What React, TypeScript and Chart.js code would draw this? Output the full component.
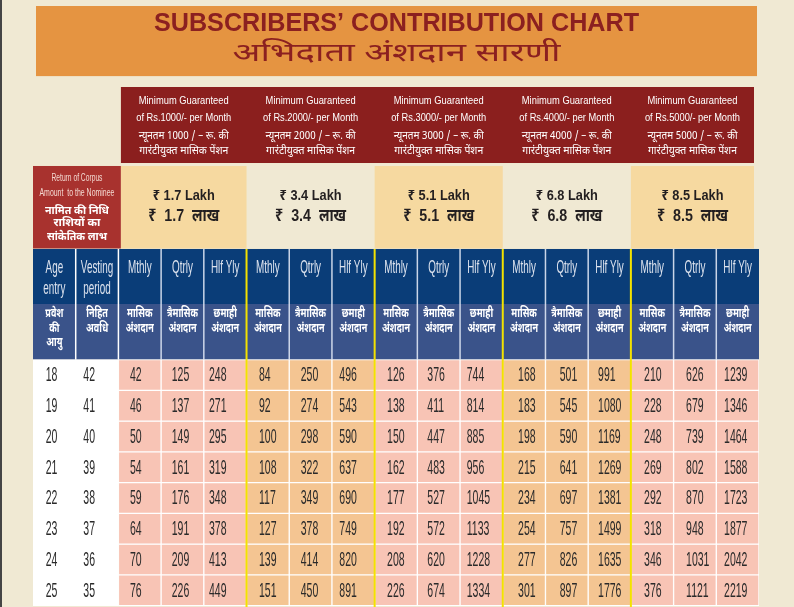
import React, { useEffect, useRef } from "react";
import { Chart, registerables } from "chart.js";

Chart.register(...registerables);

// ---------------- DATA ----------------
const TITLE_EN = "SUBSCRIBERS’ CONTRIBUTION CHART";
const TITLE_HI = "अभिदाता अंशदान सारणी";

const PENSIONS = ["1000", "2000", "3000", "4000", "5000"];
const CORPUS_LAKH = ["1.7", "3.4", "5.1", "6.8", "8.5"];

const CORPUS_HDR_EN = ["Return of Corpus", "Amount  to the Nominee"];
const CORPUS_HDR_HI = ["नामित की निधि", "राशियों का", "सांकेतिक लाभ"];

const AGE_HDR_EN = ["Age", "entry"];
const VEST_HDR_EN = ["Vesting", "period"];
const AGE_HDR_HI = ["प्रवेश", "की", "आयु"];
const VEST_HDR_HI = ["निहित", "अवधि"];
const FREQ_EN = ["Mthly", "Qtrly", "Hlf Yly"];
const FREQ_HI = [
  ["मासिक", "अंशदान"],
  ["त्रैमासिक", "अंशदान"],
  ["छमाही", "अंशदान"],
];

const AGES = [18, 19, 20, 21, 22, 23, 24, 25];
const VESTING = [42, 41, 40, 39, 38, 37, 36, 35];

const MTHLY_1000 = [42, 46, 50, 54, 59, 64, 70, 76];
const QTRLY_1000 = [125, 137, 149, 161, 176, 191, 209, 226];
const HLFYLY_1000 = [248, 271, 295, 319, 348, 378, 413, 449];

const MTHLY_2000 = [84, 92, 100, 108, 117, 127, 139, 151];
const QTRLY_2000 = [250, 274, 298, 322, 349, 378, 414, 450];
const HLFYLY_2000 = [496, 543, 590, 637, 690, 749, 820, 891];

const MTHLY_3000 = [126, 138, 150, 162, 177, 192, 208, 226];
const QTRLY_3000 = [376, 411, 447, 483, 527, 572, 620, 674];
const HLFYLY_3000 = [744, 814, 885, 956, 1045, 1133, 1228, 1334];

const MTHLY_4000 = [168, 183, 198, 215, 234, 254, 277, 301];
const QTRLY_4000 = [501, 545, 590, 641, 697, 757, 826, 897];
const HLFYLY_4000 = [991, 1080, 1169, 1269, 1381, 1499, 1635, 1776];

const MTHLY_5000 = [210, 228, 248, 269, 292, 318, 346, 376];
const QTRLY_5000 = [626, 679, 739, 802, 870, 948, 1031, 1121];
const HLFYLY_5000 = [1239, 1346, 1464, 1588, 1723, 1877, 2042, 2219];

const COLUMN_SERIES: number[][] = [
  AGES, VESTING,
  MTHLY_1000, QTRLY_1000, HLFYLY_1000,
  MTHLY_2000, QTRLY_2000, HLFYLY_2000,
  MTHLY_3000, QTRLY_3000, HLFYLY_3000,
  MTHLY_4000, QTRLY_4000, HLFYLY_4000,
  MTHLY_5000, QTRLY_5000, HLFYLY_5000,
];
const COLUMN_LABELS = [
  "Age", "Vesting",
  ...PENSIONS.flatMap((p) => FREQ_EN.map((f) => `${f} ${p}`)),
];

// ---------------- LAYOUT / STYLE ----------------
const W = 794;
const H = 607;
// vertical bands in row units (one unit = one data row)
const B = {
  titleTop: 0, titleBot: 2.28,
  redTop: 2.634, redBot: 5.106,
  lakhTop: 5.203, lakhBot: 7.886,
  blueTop: 7.902, blueMid: 9.691,
  dataTop: 11.5, yMax: 19.545,
};
const TITLE_LINES = [0.592, 1.626];
const RED_LINES = [3.08, 3.642, 4.25, 4.748];
const LAKH_LINES = [6.179, 6.852];
const CORPUS_LINES = [5.603, 6.091, 6.69, 7.09, 7.54];
const BLUE1_LINES = [8.504, 9.203];
const BLUE2_LINES = [10.049, 10.52, 10.992];
const TEXT_DX = [12.7, 7.6, 11.6, 10.6, 5.2, 12.5, 11.5, 7.4, 12.4, 10, 6.7, 15.3, 14.3, 9.9, 13.2, 12.5, 7.8];

const C = {
  bg: "#f0e9d3",
  edge: "#454545",
  titleBox: "#e59441",
  titleText: "#8b2020",
  red: "#8b1f1e",
  corpus: "#a8322e",
  corpusEn: "#f3d8d0",
  lakh: "#f6d9a0",
  blue1: "#0a3d78",
  blue2: "#3a538a",
  blueText: "#dde3ee",
  pink: "#f8c4b5",
  orange: "#f4c592",
  yellow: "#f3e200",
  num: "#2a2a2a",
};
const SANS = '"Liberation Sans", "Noto Sans", "DejaVu Sans", sans-serif';
const DEVA = '"Noto Sans Devanagari", "Lohit Devanagari", "Noto Sans", sans-serif';

function cellColor(c: number): string {
  if (c < 2) return "#ffffff";
  const g = Math.floor((c - 2) / 3);
  return g % 2 === 0 ? C.pink : C.orange;
}

function drawText(
  ctx: CanvasRenderingContext2D,
  s: string,
  x: number,
  y: number,
  font: string,
  color: string,
  opts: { align?: CanvasTextAlign; hs?: number; w?: number } = {}
) {
  ctx.save();
  ctx.font = font;
  ctx.fillStyle = color;
  ctx.textBaseline = "middle";
  ctx.textAlign = opts.align ?? "center";
  let hs = opts.hs ?? 1;
  if (opts.w) {
    const m = ctx.measureText(s).width;
    if (m > 0) hs = opts.w / m;
  }
  ctx.translate(x, y);
  ctx.scale(hs, 1);
  ctx.fillText(s, 0, 0);
  ctx.restore();
}

const tablePlugin = {
  id: "tableDecor",
  beforeDraw(chart: any) {
    const ctx: CanvasRenderingContext2D = chart.ctx;
    const xs = chart.scales.x;
    const ys = chart.scales.y;
    const cw = xs.getPixelForValue(1) - xs.getPixelForValue(0);
    const colL = (c: number) => xs.getPixelForValue(c) - cw / 2;
    const colR = (c: number) => xs.getPixelForValue(c) + cw / 2;
    const py = (u: number) => ys.getPixelForValue(u);
    const n = COLUMN_SERIES.length;

    ctx.save();
    ctx.fillStyle = C.bg;
    ctx.fillRect(0, 0, chart.width, chart.height);
    ctx.fillStyle = C.edge;
    ctx.fillRect(0, 0, 2, chart.height);

    // title box
    const tL = colL(0) + 3, tR = colR(n - 1) - 2;
    ctx.fillStyle = C.titleBox;
    ctx.fillRect(tL, py(B.titleTop), tR - tL, py(B.titleBot) - py(B.titleTop));
    const tc = (tL + tR) / 2;
    drawText(ctx, TITLE_EN, tc, py(TITLE_LINES[0]), `bold 26px ${SANS}`, C.titleText, { w: 485 });
    drawText(ctx, TITLE_HI, tc, py(TITLE_LINES[1]), `400 26px ${DEVA}`, C.titleText, { w: 328 });

    // red header band
    const rL = colL(2) + 2.5, rR = colR(n - 1) - 5;
    ctx.fillStyle = C.red;
    ctx.fillRect(rL, py(B.redTop), rR - rL, py(B.redBot) - py(B.redTop));

    // corpus box
    const cL = colL(0);
    ctx.fillStyle = C.corpus;
    ctx.fillRect(cL, py(B.lakhTop), rL - cL, py(B.lakhBot) - py(B.lakhTop));
    const cc = (cL + rL) / 2;
    drawText(ctx, CORPUS_HDR_EN[0], cc, py(CORPUS_LINES[0]), `10px ${SANS}`, C.corpusEn, { w: 51 });
    drawText(ctx, CORPUS_HDR_EN[1], cc, py(CORPUS_LINES[1]), `10px ${SANS}`, C.corpusEn, { w: 75 });
    const corpusW = [64, 47, 60];
    CORPUS_HDR_HI.forEach((s, i) =>
      drawText(ctx, s, cc, py(CORPUS_LINES[2 + i]), `bold 11px ${DEVA}`, "#ffffff", { w: corpusW[i] })
    );

    // groups
    PENSIONS.forEach((p, g) => {
      const gL = g === 0 ? rL : colL(2 + 3 * g);
      const gR = g === PENSIONS.length - 1 ? rR : colL(5 + 3 * g);
      const gc = (gL + gR) / 2;
      drawText(ctx, "Minimum Guaranteed", gc, py(RED_LINES[0]), `11px ${SANS}`, "#ffffff", { w: 90 });
      drawText(ctx, `of Rs.${p}/- per Month`, gc, py(RED_LINES[1]), `11px ${SANS}`, "#ffffff", { w: 95 });
      drawText(ctx, `न्यूनतम ${p} / – रू. की`, gc, py(RED_LINES[2]), `11px ${DEVA}`, "#ffffff", { w: 90 });
      drawText(ctx, "गारंटीयुक्त मासिक पेंशन", gc, py(RED_LINES[3]), `11px ${DEVA}`, "#ffffff", { w: 89 });

      if (g % 2 === 0) {
        ctx.fillStyle = C.lakh;
        ctx.fillRect(gL, py(B.lakhTop), gR - gL, py(B.lakhBot) - py(B.lakhTop));
      }
      drawText(ctx, `₹ ${CORPUS_LAKH[g]} Lakh`, gc, py(LAKH_LINES[0]), `bold 14px ${SANS}`, "#231f20", { w: 62 });
      drawText(ctx, `₹  ${CORPUS_LAKH[g]}  लाख`, gc, py(LAKH_LINES[1]), `bold 17px ${SANS}`, "#231f20", { w: 71 });
    });

    // blue header bands
    const bL = colL(0), bR = colR(n - 1);
    ctx.fillStyle = C.blue1;
    ctx.fillRect(bL, py(B.blueTop), bR - bL, py(B.blueMid) - py(B.blueTop));
    ctx.fillStyle = C.blue2;
    ctx.fillRect(bL, py(B.blueMid), bR - bL, py(B.dataTop) - py(B.blueMid));

    // blue header separators
    for (let c = 1; c < n; c++) {
      if (c >= 5 && (c - 2) % 3 === 0) continue;
      ctx.fillStyle = c <= 2 ? "#ffffff" : "rgba(222,230,244,0.9)";
      ctx.fillRect(colL(c) - 0.75, py(B.blueTop), 1.5, py(B.dataTop) - py(B.blueTop));
    }

    // blue header texts
    const en: string[][] = [AGE_HDR_EN, VEST_HDR_EN, ...PENSIONS.flatMap(() => FREQ_EN.map((f) => [f]))];
    const hi: string[][] = [AGE_HDR_HI, VEST_HDR_HI, ...PENSIONS.flatMap(() => FREQ_HI)];
    ctx.font = `bold 12px ${DEVA}`;
    const mRef = ctx.measureText("अंशदान").width;
    const hiScale = mRef > 0 ? Math.min(1.4, Math.max(0.5, 28 / mRef)) : 1;
    for (let c = 0; c < n; c++) {
      const x = xs.getPixelForValue(c);
      en[c].forEach((s, i) =>
        drawText(ctx, s, x, py(BLUE1_LINES[i]), `19px ${SANS}`, C.blueText, { hs: 0.52 })
      );
      hi[c].forEach((s, i) =>
        drawText(ctx, s, x, py(BLUE2_LINES[i]), `bold 12px ${DEVA}`, "#ffffff", { hs: hiScale })
      );
    }
    ctx.restore();
  },
  afterDatasetsDraw(chart: any) {
    const ctx: CanvasRenderingContext2D = chart.ctx;
    const xs = chart.scales.x;
    const ys = chart.scales.y;
    const cw = xs.getPixelForValue(1) - xs.getPixelForValue(0);
    const colL = (c: number) => xs.getPixelForValue(c) - cw / 2;
    const py = (u: number) => ys.getPixelForValue(u);
    const n = COLUMN_SERIES.length;

    ctx.save();
    // yellow group separators
    ctx.fillStyle = C.yellow;
    for (let c = 5; c < n; c += 3) {
      ctx.fillRect(colL(c) - 1, py(B.blueTop), 2, chart.chartArea.bottom - py(B.blueTop));
    }
    // cell values
    AGES.forEach((_, r) => {
      const meta = chart.getDatasetMeta(r);
      meta.data.forEach((el: any, c: number) => {
        const p = el.getProps(["x", "y", "base", "width"], true);
        const cy = (p.y + p.base) / 2;
        const left = p.x - p.width / 2;
        drawText(ctx, String(COLUMN_SERIES[c][r]), left + TEXT_DX[c], cy + 0.5, `21px ${SANS}`, C.num, {
          align: "left",
          hs: 0.5,
        });
      });
    });
    ctx.restore();
  },
};

export default function App() {
  const ref = useRef<HTMLCanvasElement>(null);
  useEffect(() => {
    document.body.style.margin = "0";
    const canvas = ref.current;
    if (!canvas) return;
    const datasets = AGES.map((age, r) => ({
      label: `Age ${age}`,
      data: COLUMN_SERIES.map(() => [B.dataTop + r, B.dataTop + r + 1]),
      backgroundColor: COLUMN_SERIES.map((_, c) => cellColor(c)),
      borderColor: "#ffffff",
      borderWidth: 1,
      borderSkipped: false,
      grouped: false,
      barPercentage: 1,
      categoryPercentage: 1,
    }));
    const chart = new Chart(canvas, {
      type: "bar",
      data: { labels: COLUMN_LABELS, datasets: datasets as any },
      options: {
        responsive: false,
        animation: false,
        devicePixelRatio: 1,
        layout: { padding: { left: 33, right: 35, top: 6, bottom: 0 } },
        plugins: {
          legend: { display: false },
          tooltip: { enabled: false },
          title: { display: false },
        },
        scales: {
          x: { type: "category", display: false, offset: true },
          y: { type: "linear", display: false, reverse: true, min: 0, max: B.yMax },
        },
      },
      plugins: [tablePlugin],
    });
    return () => chart.destroy();
  }, []);
  return (
    <div style={{ position: "fixed", left: 0, top: 0, width: W, height: H }}>
      <canvas ref={ref} width={W} height={H} style={{ display: "block" }} />
    </div>
  );
}
